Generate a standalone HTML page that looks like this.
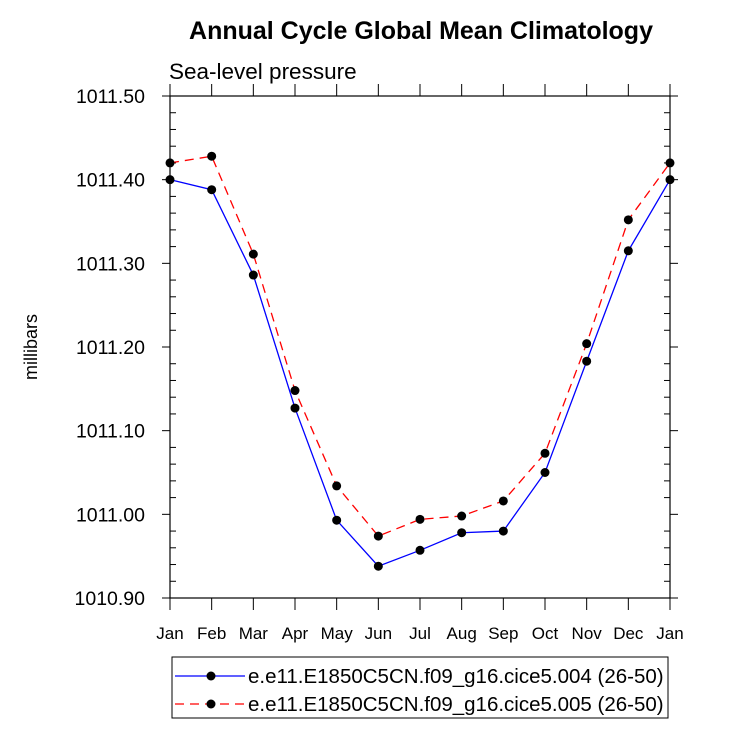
<!DOCTYPE html>
<html><head><meta charset="utf-8"><style>
body{margin:0;background:#fff;}
svg text{font-family:"Liberation Sans",Arial,sans-serif;}
</style></head><body>
<svg width="733" height="729" viewBox="0 0 733 729">
<text x="421" y="39" text-anchor="middle" font-size="25" font-weight="bold">Annual Cycle Global Mean Climatology</text>
<text x="169" y="79" font-size="22.5">Sea-level pressure</text>
<text transform="translate(37,347) rotate(-90)" text-anchor="middle" font-size="18">millibars</text>
<g id="axes"></g>
<g id="series"></g>
<rect x="172" y="657" width="496" height="61" fill="none" stroke="#000" stroke-width="1"/>
<g>
<line x1="175" y1="676" x2="245" y2="676" stroke="#0000ff" stroke-width="1.3"/>
<circle cx="211" cy="676" r="4.5" fill="#000"/>
<text x="248" y="683" font-size="20.5">e.e11.E1850C5CN.f09_g16.cice5.004 (26-50)</text>
</g>
<g>
<line x1="175" y1="704" x2="245" y2="704" stroke="#ff0000" stroke-width="1.3" stroke-dasharray="9,6"/>
<circle cx="211" cy="704" r="4.5" fill="#000"/>
<text x="248" y="711" font-size="20.5">e.e11.E1850C5CN.f09_g16.cice5.005 (26-50)</text>
</g>
</svg>
<script>
const months=["Jan","Feb","Mar","Apr","May","Jun","Jul","Aug","Sep","Oct","Nov","Dec","Jan"];
const series004=[1011.400,1011.388,1011.286,1011.127,1010.993,1010.938,1010.957,1010.978,1010.980,1011.050,1011.183,1011.315,1011.400];
const series005=[1011.420,1011.428,1011.311,1011.148,1011.034,1010.974,1010.994,1010.998,1011.016,1011.073,1011.204,1011.352,1011.420];
const yTicks=[1010.90,1011.00,1011.10,1011.20,1011.30,1011.40,1011.50];
const L=170,R=670,T=96,B=598,ymin=1010.9,ymax=1011.5;
const xs=i=>L+(R-L)*i/(months.length-1);
const ys=v=>B-(B-T)*(v-ymin)/(ymax-ymin);
const NS="http://www.w3.org/2000/svg";
function mk(tag,attrs,parent){const e=document.createElementNS(NS,tag);for(const k in attrs)e.setAttribute(k,attrs[k]);parent.appendChild(e);return e;}
const ax=document.getElementById('axes');
const frame=mk('rect',{x:L,y:T,width:R-L,height:B-T,fill:'none',stroke:'#000','stroke-width':1.2},ax);


months.forEach((m,i)=>{
 const x=xs(i);
 mk('line',{x1:x,y1:B,x2:x,y2:B+12,stroke:'#000'},ax);
 mk('line',{x1:x,y1:T,x2:x,y2:T-12,stroke:'#000'},ax);
 const t=mk('text',{x:x,y:B+41,'text-anchor':'middle','font-size':17},ax);
 t.textContent=m;
 
 
});
yTicks.forEach((v,i)=>{
 const y=ys(v);
 mk('line',{x1:L-8,y1:y,x2:L,y2:y,stroke:'#000'},ax);
 mk('line',{x1:R,y1:y,x2:R+8,y2:y,stroke:'#000'},ax);
 const t=mk('text',{x:L-25,y:y+7,'text-anchor':'end','font-size':19.5},ax);
 t.textContent=v.toFixed(2);
 
 
 if(i<yTicks.length-1){for(let k=1;k<5;k++){const yy=ys(v+0.02*k);
  mk('line',{x1:L,y1:yy,x2:L+6,y2:yy,stroke:'#000'},ax);
  mk('line',{x1:R-6,y1:yy,x2:R,y2:yy,stroke:'#000'},ax);}}
});
const sg=document.getElementById('series');
function draw(data,color,dash,name){
 const g=mk('g',{},sg);
 
 
 const p=mk('polyline',{points:data.map((v,i)=>xs(i)+','+ys(v)).join(' '),fill:'none',stroke:color,'stroke-width':1.3},g);
 if(dash)p.setAttribute('stroke-dasharray',dash);
 data.forEach((v,i)=>{const c=mk('circle',{cx:xs(i),cy:ys(v),r:4.5,fill:'#000'},g);
  
  });
}
draw(series004,'#0000ff',null,'series-004');
draw(series005,'#ff0000','9,6','series-005');
</script>
</body></html>
